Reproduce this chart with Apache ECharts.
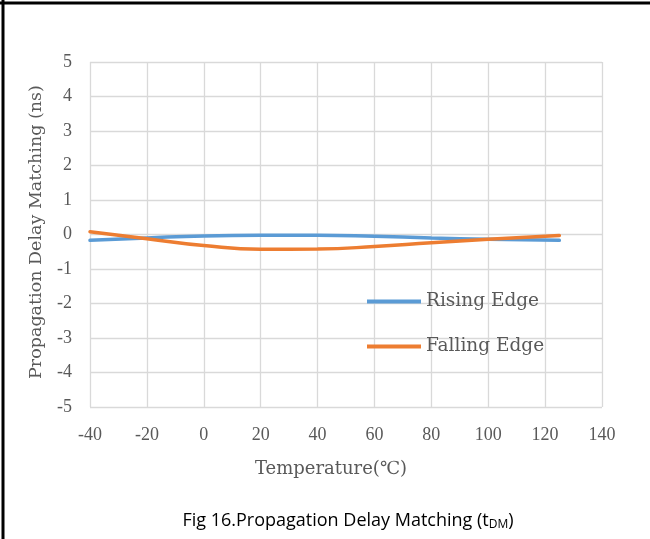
<!DOCTYPE html>
<html><head><meta charset="utf-8">
<script src="https://cdn.jsdelivr.net/npm/echarts@6/dist/echarts.min.js"></script>
<style>html,body{margin:0;padding:0;background:#fff}#c{width:650px;height:539px}</style>
</head><body><div id="c"></div>
<script>
const temps = [-40, -20, 0, 20, 40, 60, 80, 100, 125];
const risingEdge = [-0.17, -0.10, -0.04, -0.02, -0.02, -0.05, -0.10, -0.14, -0.17];
const fallingEdge = [0.08, -0.12, -0.32, -0.43, -0.42, -0.35, -0.24, -0.14, -0.03];
const seriesNames = ['Rising Edge', 'Falling Edge'];
const xTitle = 'Temperature(℃)';
const yTitle = 'Propagation Delay Matching (ns)';

const serif = 'DejaVu Serif';
const tickFont = 'Liberation Serif';
const chart = echarts.init(document.getElementById('c'), null, {renderer: 'canvas'});
const pair = (xs, ys) => xs.map((x, i) => [x, ys[i]]);
chart.setOption({
  animation: false,
  backgroundColor: '#fff',
  grid: {left: 90, right: 48, top: 62, bottom: 132},
  xAxis: {
    type: 'value', min: -40, max: 140, interval: 20,
    axisLine: {show: false}, axisTick: {show: false},
    splitLine: {show: true, lineStyle: {color: '#d9d9d9', width: 1.3}},
    axisLabel: {color: '#595959', fontFamily: tickFont, fontSize: 18, margin: 19}
  },
  yAxis: {
    type: 'value', min: -5, max: 5, interval: 1,
    axisLine: {show: false}, axisTick: {show: false},
    splitLine: {show: true, lineStyle: {color: '#d9d9d9', width: 1.3}},
    axisLabel: {color: '#595959', fontFamily: tickFont, fontSize: 18, margin: 18}
  },
  legend: {
    orient: 'vertical', left: 367, top: 292, itemGap: 26, padding: 0,
    itemWidth: 54, itemHeight: 4, icon: 'rect',
    textStyle: {color: '#595959', fontFamily: serif, fontSize: 18.5},
    data: seriesNames
  },
  series: [
    {name: seriesNames[0], type: 'line', data: pair(temps, risingEdge), smooth: 0.5,
     symbol: 'none', lineStyle: {color: '#5b9bd5', width: 3.5, cap: 'round'}, itemStyle: {color: '#5b9bd5'}},
    {name: seriesNames[1], type: 'line', data: pair(temps, fallingEdge), smooth: 0.5,
     symbol: 'none', lineStyle: {color: '#ed7d31', width: 3.5, cap: 'round'}, itemStyle: {color: '#ed7d31'}}
  ],
  graphic: [
    {type: 'line', shape: {x1: 0, y1: 3, x2: 650, y2: 3}, style: {stroke: '#000', lineWidth: 3}},
    {type: 'line', shape: {x1: 3, y1: 0, x2: 3, y2: 539}, style: {stroke: '#000', lineWidth: 3}},
    {type: 'text', x: 331, y: 469, style: {text: xTitle, fill: '#595959', font: '18px "DejaVu Serif"', textAlign: 'center', textVerticalAlign: 'middle'}},
    {type: 'text', x: 36, y: 232, rotation: Math.PI / 2, style: {text: yTitle, fill: '#595959', font: '17.5px "DejaVu Serif"', textAlign: 'center', textVerticalAlign: 'middle'}},
    {type: 'text', x: 348, y: 521, style: {
      text: '{a|Fig 16.Propagation Delay Matching (t}{s|DM}{a|)}',
      textAlign: 'center', textVerticalAlign: 'middle',
      rich: {
        a: {fontFamily: 'Open Sans', fontSize: 18, color: '#000', verticalAlign: 'middle', lineHeight: 24},
        s: {fontFamily: 'Open Sans', fontSize: 12, color: '#000', verticalAlign: 'middle', lineHeight: 24, padding: [8,0,0,0]}
      }
    }}
  ]
});
</script></body></html>
